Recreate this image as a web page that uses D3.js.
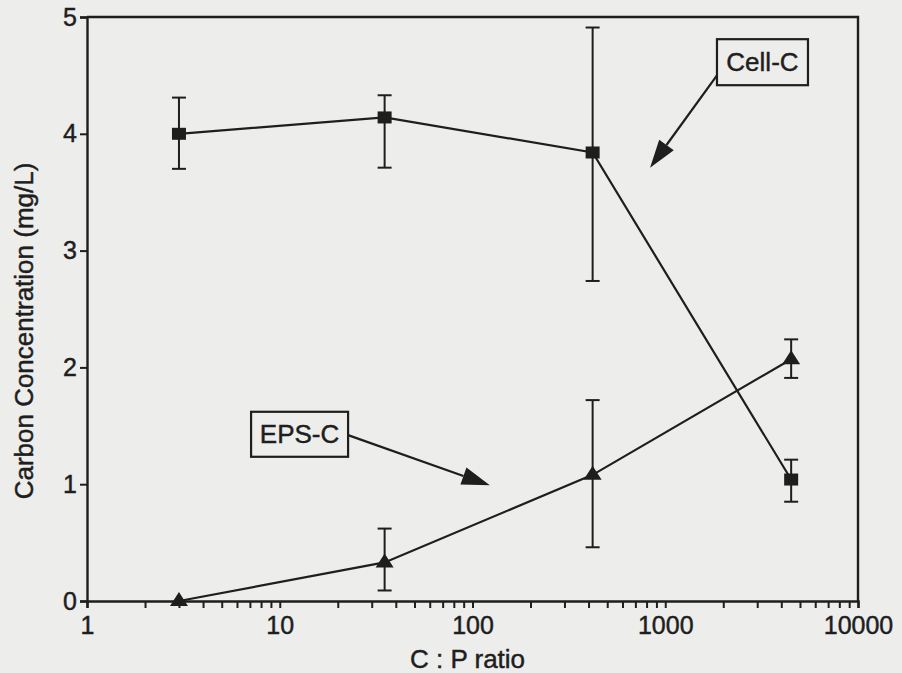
<!DOCTYPE html>
<html><head><meta charset="utf-8">
<script src="https://cdn.jsdelivr.net/npm/d3@7"></script>
<style>
html,body{margin:0;padding:0;background:#ededeb;}
svg{display:block;}
text{font-family:"Liberation Sans",Arial,Helvetica,sans-serif;fill:#1e1e1e;stroke:#1e1e1e;stroke-width:0.45px;}
</style></head>
<body>
<svg id="chart" width="902" height="673"></svg>
<script>
// ---- data ----
const cpRatio   = [3, 35, 420, 4500];
const cellC     = [4.00, 4.14, 3.84, 1.04];
const cellCLow  = [3.70, 3.71, 2.74, 0.85];
const cellCHigh = [4.31, 4.33, 4.91, 1.21];
const epsC      = [0.00, 0.33, 1.08, 2.07];
const epsCLow   = [0.00, 0.09, 0.46, 1.91];
const epsCHigh  = [0.00, 0.62, 1.72, 2.24];
const xTickLabels = [1, 10, 100, 1000, 10000];
const yTickLabels = [0, 1, 2, 3, 4, 5];
const labelCell = "Cell-C";
const labelEps  = "EPS-C";

const svg = d3.select("#chart");
const L = 87, R = 858, T = 17, B = 601;
const ink = "#1e1e1e";
const x = d3.scaleLog().domain([1, 10000]).range([L, R]);
const y = d3.scaleLinear().domain([0, 5]).range([B, T]);

// minor ticks
const minor = [];
for (let e = 0; e < 4; e++) for (let k = 2; k <= 9; k++) minor.push(k * Math.pow(10, e));

const xAxis = d3.axisBottom(x).tickValues(xTickLabels).tickFormat(d3.format("d")).tickSize(7).tickPadding(8);
const gx = svg.append("g").attr("transform", `translate(0,${B})`).call(xAxis);
const gxm = svg.append("g").attr("transform", `translate(0,${B})`)
  .call(d3.axisBottom(x).tickValues(minor).tickFormat("").tickSize(7));
gxm.select(".domain").remove();

const yAxis = d3.axisLeft(y).tickValues(yTickLabels).tickFormat(d3.format("d")).tickSize(7).tickPadding(3);
const gy = svg.append("g").attr("transform", `translate(${L},0)`).call(yAxis);

[gx, gxm, gy].forEach(g => {
  g.selectAll("line").attr("stroke", ink).attr("stroke-width", 2);
  g.selectAll(".domain").attr("stroke", ink).attr("stroke-width", 2.4);
  g.selectAll("text").attr("font-size", 25).attr("fill", ink)
    .attr("font-family", '"Liberation Sans",Arial,sans-serif');
});
gx.selectAll("text").attr("dy", "0.71em");

// frame top & right
svg.append("path").attr("d", `M${L},${T}H${R}V${B}`).attr("fill", "none")
  .attr("stroke", ink).attr("stroke-width", 2.4);

// axis titles
svg.append("text").attr("x", (L + R) / 2 - 5).attr("y", 668).attr("text-anchor", "middle")
  .attr("font-size", 26).text("C : P ratio");
svg.append("text").attr("transform", `translate(33,${(T + B) / 2 + 22}) rotate(-90)`)
  .attr("text-anchor", "middle").attr("font-size", 26).text("Carbon Concentration (mg/L)");

// series
function drawSeries(vals, lo, hi, shape) {
  const line = d3.line().x((d, i) => x(cpRatio[i])).y(d => y(d));
  svg.append("path").datum(vals).attr("d", line).attr("fill", "none")
    .attr("stroke", ink).attr("stroke-width", 2.2);
  vals.forEach((v, i) => {
    const cx = x(cpRatio[i]);
    if (hi[i] - lo[i] > 0.01) {
      svg.append("line").attr("x1", cx).attr("x2", cx).attr("y1", y(lo[i])).attr("y2", y(hi[i]))
        .attr("stroke", ink).attr("stroke-width", 2);
      [lo[i], hi[i]].forEach(e => svg.append("line").attr("x1", cx - 7).attr("x2", cx + 7)
        .attr("y1", y(e)).attr("y2", y(e)).attr("stroke", ink).attr("stroke-width", 2));
    }
    const cy = y(v);
    if (shape === "square") {
      svg.append("rect").attr("x", cx - 7).attr("y", cy - 6).attr("width", 14).attr("height", 12).attr("fill", ink);
    } else {
      svg.append("path").attr("d", `M${cx},${cy - 9}L${cx + 9},${cy + 5}L${cx - 9},${cy + 5}Z`).attr("fill", ink);
    }
  });
}
drawSeries(cellC, cellCLow, cellCHigh, "square");
drawSeries(epsC, epsCLow, epsCHigh, "triangle");

// annotations
function arrow(x1, y1, x2, y2) {
  const ang = Math.atan2(y2 - y1, x2 - x1), len = 28, w = 9;
  const bx = x2 - len * Math.cos(ang), by = y2 - len * Math.sin(ang);
  svg.append("line").attr("x1", x1).attr("y1", y1).attr("x2", bx).attr("y2", by)
    .attr("stroke", ink).attr("stroke-width", 2.2);
  const px = -Math.sin(ang) * w, py = Math.cos(ang) * w;
  svg.append("path").attr("d", `M${x2},${y2}L${bx + px},${by + py}L${bx - px},${by - py}Z`).attr("fill", ink);
}
function box(x0, y0, w, h, label) {
  svg.append("rect").attr("x", x0).attr("y", y0).attr("width", w).attr("height", h)
    .attr("fill", "none").attr("stroke", ink).attr("stroke-width", 2.2);
  svg.append("text").attr("x", x0 + w / 2).attr("y", y0 + h / 2 + 9).attr("text-anchor", "middle")
    .attr("font-size", 26).text(label);
}
// annotation boxes anchored in data space
const cbx = x(1855), cby = y(4.81);
box(cbx, cby, 91, 46, labelCell);
arrow(cbx, y(4.5), x(834), y(3.71));
const ebx = x(7.1), eby = y(1.62);
box(ebx, eby, 97, 45, labelEps);
arrow(ebx + 97, y(1.42), x(123), y(0.99));
</script>
</body></html>
